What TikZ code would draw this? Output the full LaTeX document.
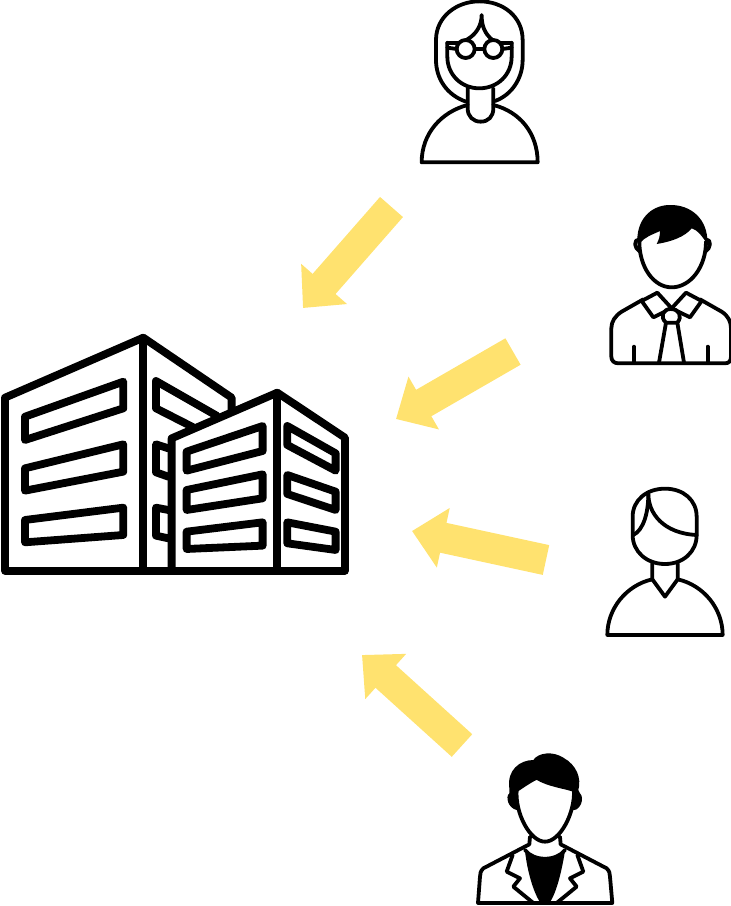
\documentclass[tikz,border=0pt]{standalone}
\usepackage{xcolor}
\usetikzlibrary{arrows.meta}
\definecolor{flowyellow}{HTML}{FFE26F}
\begin{document}
\begin{tikzpicture}[
    x=1pt, y=-1pt,
    flow/.style={draw=flowyellow, line width=30.5pt, -{Triangle[length=32pt,width=59pt,fill=flowyellow]}},
    icon/.style={x=0.3333pt, y=-0.3333pt, line width=3.8pt, line join=round, line cap=round},
    walls/.style={x=0.3333pt, y=-0.3333pt, line width=7.8pt, line join=round, line cap=round}
]
\useasboundingbox (0,0) rectangle (731,906);

% Arrows
\coordinate (tailA) at (391.5,207);
\coordinate (tipA) at (303,308);
\coordinate (tailB) at (513,351.5);
\coordinate (tipB) at (396,419);
\coordinate (tailC) at (546,560);
\coordinate (tipC) at (412,531);
\coordinate (tailD) at (462,745.5);
\coordinate (tipD) at (362,655);
\draw[flow] (tailA) -- (tipA);
\draw[flow] (tailB) -- (tipB);
\draw[flow] (tailC) -- (tipC);
\draw[flow] (tailD) -- (tipD);

% Building
\begin{scope}[shift={(0,325)}, walls]
\draw (695,262) -- (695,218) -- (430,38) -- (15,218) -- (15,738) -- (1035,738) -- (1035,338) -- (832,203) -- (515,340) -- (515,738);
\draw (430,38) -- (430,738);
\draw (832,203) -- (832,738);
% left block windows
\draw (75,275) -- (370,170) -- (370,250) -- (75,345) -- cycle;
\draw (75,430) -- (370,358) -- (370,440) -- (75,497) -- cycle;
\draw (75,585) -- (370,548) -- (370,630) -- (75,652) -- cycle;
\draw (650,272) -- (468,168) -- (468,250) -- (578,306);
\draw (505,370) -- (468,358) -- (468,442) -- (505,455);
\draw (505,555) -- (468,548) -- (468,632) -- (505,640);
% right block windows
\draw (560,380) -- (788,303) -- (788,378) -- (560,437) -- cycle;
\draw (560,495) -- (788,448) -- (788,520) -- (560,555) -- cycle;
\draw (560,620) -- (788,592) -- (788,662) -- (560,672) -- cycle;
\draw (862,303) -- (1007,385) -- (1007,437) -- (862,360) -- cycle;
\draw (862,450) -- (1007,500) -- (1007,555) -- (862,507) -- cycle;
\draw (862,592) -- (1007,620) -- (1007,675) -- (862,655) -- cycle;
\end{scope}

% Woman with glasses
\begin{scope}[shift={(410,0)}, icon]
\draw (168,305) .. controls (110,285) and (78,235) .. (78,180) -- (78,120) .. controls (78,50) and (140,4) .. (208,4) .. controls (280,4) and (338,50) .. (338,120) -- (338,180) .. controls (338,235) and (305,285) .. (255,303);
\draw (112,128) -- (112,170) .. controls (112,225) and (155,265) .. (208,265) .. controls (262,265) and (305,225) .. (305,170) -- (305,128);
\draw (112,128) -- (145,128) (305,128) -- (272,128);
\draw (172,118) .. controls (195,105) and (215,80) .. (215,45) .. controls (215,80) and (225,100) .. (245,118);
\draw (167,147) circle [radius=27];
\draw (250,147) circle [radius=27];
\draw (194,147) -- (223,147) (112,143) -- (140,147) (277,147) -- (305,143);
\draw (173,265) -- (173,325) .. controls (173,350) and (190,365) .. (212,365) .. controls (235,365) and (250,350) .. (250,325) -- (250,265);
\draw (173,315) .. controls (95,335) and (35,400) .. (35,487) -- (383,487) .. controls (383,400) and (330,335) .. (250,315);
\end{scope}

% Man with tie
\begin{scope}[shift={(600,200)}, icon]
\fill (112,120) .. controls (112,60) and (150,18) .. (205,15) .. controls (275,12) and (325,60) .. (322,130) .. controls (305,110) and (295,90) .. (275,85) .. controls (255,110) and (215,125) .. (170,132) .. controls (178,118) and (180,105) .. (180,93) .. controls (155,105) and (135,110) .. (120,130) -- cycle;
\draw (118,125) .. controls (118,200) and (160,262) .. (215,262) .. controls (272,262) and (318,200) .. (318,125);
\draw (118,118) .. controls (100,118) and (102,145) .. (120,155);
\draw (318,118) .. controls (335,118) and (333,145) .. (316,155);
\draw (130,298) -- (65,335) .. controls (45,348) and (34,365) .. (34,385) -- (34,470) .. controls (34,482) and (42,490) .. (55,490) -- (375,490) .. controls (388,490) and (393,482) .. (393,470) -- (393,385) .. controls (393,365) and (385,348) .. (365,335) -- (300,298);
\draw (125,303) -- (172,278) -- (215,325) -- (160,352) -- cycle;
\draw (305,303) -- (258,278) -- (215,325) -- (270,352) -- cycle;
\draw[fill=white] (198,368) .. controls (178,350) and (190,327) .. (212,327) .. controls (238,327) and (248,350) .. (232,368) -- cycle;
\draw (198,368) -- (177,488) (232,368) -- (252,488);
\draw (102,440) -- (102,488) (323,440) -- (323,488);
\end{scope}

% Young man
\begin{scope}[shift={(600,480)}, icon]
\draw (98,165) -- (98,110) .. controls (98,60) and (140,26) .. (195,26) .. controls (250,26) and (290,60) .. (290,110) -- (290,165) .. controls (290,215) and (250,252) .. (195,252) .. controls (140,252) and (98,215) .. (98,165);
\draw (145,42) .. controls (145,100) and (190,160) .. (290,165);
\draw (145,42) .. controls (145,100) and (130,150) .. (100,165);
\draw (157,250) -- (157,298) -- (195,350) -- (233,298) -- (233,250);
\draw (157,298) .. controls (80,315) and (22,385) .. (22,465) -- (368,465) .. controls (368,385) and (310,315) .. (233,298);
\end{scope}

% Man in jacket
\begin{scope}[shift={(470,745)}, icon]
\fill (118,130) .. controls (110,75) and (150,45) .. (190,45) .. controls (205,22) and (250,18) .. (280,38) .. controls (320,60) and (335,100) .. (325,135) -- (330,145) .. controls (345,160) and (330,195) .. (312,195) -- (140,195) .. controls (115,190) and (105,155) .. (118,145) -- cycle;
\draw[fill=white] (140,135) .. controls (165,118) and (185,105) .. (200,98) .. controls (235,120) and (285,125) .. (312,135) .. controls (315,205) and (270,290) .. (225,290) .. controls (180,290) and (135,205) .. (140,135) -- cycle;
\fill (165,318) .. controls (190,350) and (260,350) .. (285,318) .. controls (275,380) and (260,440) .. (240,472) -- (210,472) .. controls (190,440) and (172,380) .. (165,318) -- cycle;
\draw (180,275) -- (178,298) -- (40,370) .. controls (32,378) and (30,385) .. (30,395) -- (24,474) -- (427,474) -- (420,395) .. controls (420,385) and (418,378) .. (410,370) -- (272,298) -- (270,275);
\draw (165,315) .. controls (190,350) and (260,350) .. (285,315);
\draw (128,330) -- (110,380) -- (150,400) -- (130,425) -- (190,474);
\draw (322,330) -- (340,380) -- (300,400) -- (320,425) -- (260,474);
\end{scope}
\end{tikzpicture}
\end{document}
